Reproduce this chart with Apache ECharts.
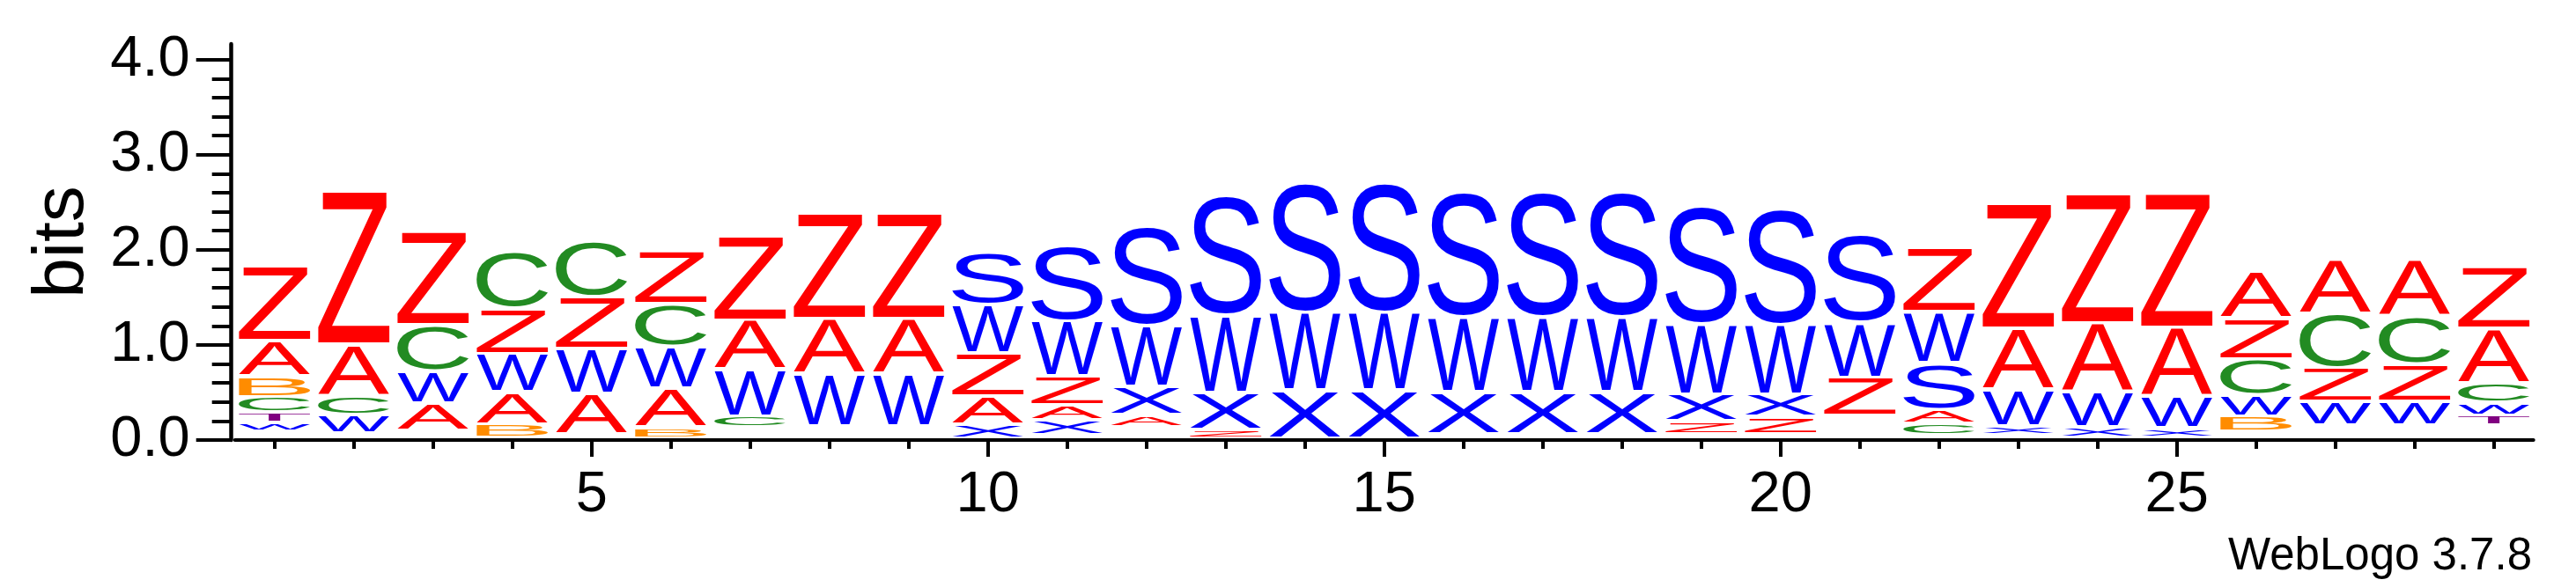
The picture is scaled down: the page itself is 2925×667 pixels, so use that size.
<!DOCTYPE html>
<html>
<head>
<meta charset="utf-8">
<script src="https://cdn.jsdelivr.net/npm/echarts@6/dist/echarts.min.js"></script>
<style>
  html, body { margin: 0; padding: 0; background: #fff; }
  #chart { width: 2925px; height: 667px; }
</style>
</head>
<body>
<div id="chart"></div>
<script>
// ---------------- data (bits per letter per position) ----------------
const positions = [1,2,3,4,5,6,7,8,9,10,11,12,13,14,15,16,17,18,19,20,21,22,23,24,25,26,27,28,29];
const letters = ['A','B','C','S','T','W','X','Z'];
const letterColors = ['#ff0000','#ff8c00','#228b22','#0000ff','#800080','#0000ff','#0000ff','#ff0000'];

const bitsA = [0.370,0.543,0.285,0.337,0.435,0.410,0.520,0.583,0.583,0.300,0.156,0.125,0,0,0,0,0,0,0,0,0,0.148,0.649,0.726,0.730,0.484,0.575,0.594,0.570];
const bitsB = [0.217,0,0,0.141,0,0.111,0,0,0,0,0,0,0,0,0,0,0,0,0,0,0,0,0,0,0,0.161,0,0,0];
const bitsC = [0.165,0.195,0.489,0.591,0.586,0.450,0.120,0,0,0,0,0,0,0,0,0,0,0,0,0,0,0.115,0,0,0,0.373,0.569,0.500,0.207];
const bitsS = [0,0,0,0,0,0,0,0,0,0.557,0.793,1.054,1.261,1.376,1.376,1.332,1.332,1.332,1.257,1.231,0.934,0.493,0,0,0,0,0,0,0];
const bitsT = [0.105,0,0,0,0,0,0,0,0,0,0,0,0,0,0,0,0,0,0,0,0,0,0,0,0,0,0,0,0.105];
const bitsW = [0.098,0.190,0.336,0.404,0.470,0.444,0.489,0.547,0.547,0.514,0.576,0.635,0.807,0.817,0.817,0.786,0.786,0.786,0.735,0.730,0.574,0.535,0.384,0.363,0.333,0.227,0.251,0.251,0.132];
const bitsX = [0,0,0,0,0,0,0,0,0,0.144,0.152,0.299,0.392,0.503,0.503,0.444,0.444,0.444,0.283,0.235,0,0,0.088,0.111,0.097,0,0,0,0];
const bitsZ = [0.786,1.610,0.989,0.476,0.545,0.555,0.890,1.119,1.119,0.447,0.309,0,0.091,0,0,0,0,0,0.134,0.182,0.401,0.680,1.312,1.366,1.406,0.432,0.353,0.392,0.651];
// summed height of letters too small to be drawn (sit at the bottom of each stack)
const otherBits = [0.090,0.078,0.103,0.028,0.058,0.021,0.134,0.149,0.149,0.021,0.058,0.142,0.021,0.021,0.021,0.068,0.068,0.068,0.068,0.068,0.259,0.058,0.058,0.028,0.028,0.090,0.157,0.157,0.157];

const yTickValues = [0,1,2,3,4];
const yTickLabels = ['0.0','1.0','2.0','3.0','4.0'];
const yMinorTicks = [0.2,0.4,0.6,0.8,1.2,1.4,1.6,1.8,2.2,2.4,2.6,2.8,3.2,3.4,3.6,3.8];
const xLabelValues = [5,10,15,20,25];

// ---------------- build stacks ----------------
const bitsByLetter = [bitsA,bitsB,bitsC,bitsS,bitsT,bitsW,bitsX,bitsZ];
const logoData = [];
positions.forEach((p, i) => {
  const stack = letters.map((l, li) => ({ li, h: bitsByLetter[li][i] }))
    .filter(d => d.h > 0)
    .sort((a, b) => a.h - b.h);
  let base = otherBits[i];
  stack.forEach(d => { logoData.push([p, base, base + d.h, d.li]); base += d.h; });
});

// glyph ink metrics, for stretching each letter to fill its box
const FAMILY = '"Liberation Sans", Arial, Helvetica, sans-serif';
const GF = 200;
const GFONT = GF + 'px ' + FAMILY;
const mctx = document.createElement('canvas').getContext('2d');
mctx.font = GFONT; mctx.textBaseline = 'middle'; mctx.textAlign = 'left';
const glyphMetrics = letters.map(l => {
  const m = mctx.measureText(l);
  return { l: m.actualBoundingBoxLeft, r: m.actualBoundingBoxRight, a: m.actualBoundingBoxAscent, d: m.actualBoundingBoxDescent };
});

const chart = echarts.init(document.getElementById('chart'), null, { renderer: 'canvas' });
const GRID = { left: 266.7, right: 48.3, top: 50, bottom: 167 };
const YMAX = 4.164;
const axisColor = '#000';

chart.setOption({
  animation: false,
  backgroundColor: '#fff',
  grid: [Object.assign({}, GRID), Object.assign({}, GRID)],
  xAxis: [
    {
      gridIndex: 0, type: 'value', min: 0.5, max: 29.5,
      axisLine: { show: true, onZero: false, lineStyle: { color: axisColor, width: 4 } },
      axisTick: { show: true, customValues: positions, length: 10, lineStyle: { color: axisColor, width: 4 } },
      axisLabel: { show: true, customValues: xLabelValues, color: '#000', fontSize: 65, fontFamily: FAMILY, margin: 31 },
      splitLine: { show: false }
    },
    {
      gridIndex: 1, type: 'value', min: 0.5, max: 29.5,
      axisLine: { show: false, onZero: false },
      axisTick: { show: true, customValues: xLabelValues, length: 19, lineStyle: { color: axisColor, width: 4 } },
      axisLabel: { show: false },
      splitLine: { show: false }
    }
  ],
  yAxis: [
    {
      gridIndex: 0, type: 'value', min: 0, max: YMAX, offset: 4,
      axisLine: { show: true, onZero: false, lineStyle: { color: axisColor, width: 4.5 } },
      axisTick: { show: true, customValues: yTickValues, length: 40, lineStyle: { color: axisColor, width: 4 } },
      axisLabel: {
        show: true, customValues: yTickValues, color: '#000', fontSize: 65, fontFamily: FAMILY, margin: 47,
        formatter: v => yTickLabels[yTickValues.indexOf(Math.round(v))]
      },
      splitLine: { show: false },
      name: 'bits', nameLocation: 'middle', nameGap: 150,
      nameTextStyle: { fontSize: 82, color: '#000', fontFamily: FAMILY }
    },
    {
      gridIndex: 1, type: 'value', min: 0, max: YMAX, offset: 4,
      axisLine: { show: false, onZero: false },
      axisTick: { show: true, customValues: yMinorTicks, length: 22, lineStyle: { color: axisColor, width: 4 } },
      axisLabel: { show: false },
      splitLine: { show: false }
    }
  ],
  graphic: [{
    type: 'text', x: 2875, y: 633,
    style: { text: 'WebLogo 3.7.8', font: '51px ' + FAMILY, fill: '#000', align: 'right', verticalAlign: 'middle' }
  }],
  series: [{
    type: 'custom',
    xAxisIndex: 0, yAxisIndex: 0,
    silent: true,
    clip: false,
    encode: { x: 0, y: [1, 2] },
    data: logoData,
    renderItem: function (params, api) {
      const p = api.value(0), y0 = api.value(1), y1 = api.value(2), li = api.value(3);
      const tl = api.coord([p - 0.45, y1]);
      const br = api.coord([p + 0.45, y0]);
      const bh = br[1] - tl[1];
      const inset = Math.min(2, bh * 0.2);
      const top = tl[1] + inset, h = bh - 2 * inset;
      const left = tl[0], w = br[0] - tl[0];
      const m = glyphMetrics[li];
      const sx = w / (m.l + m.r), sy = h / (m.a + m.d);
      return {
        type: 'text',
        x: left + m.l * sx, y: top + m.a * sy,
        scaleX: sx, scaleY: sy,
        style: { text: letters[li], x: 0, y: 0, font: GFONT, fill: letterColors[li], align: 'left', verticalAlign: 'middle' }
      };
    }
  }]
});
</script>
</body>
</html>
